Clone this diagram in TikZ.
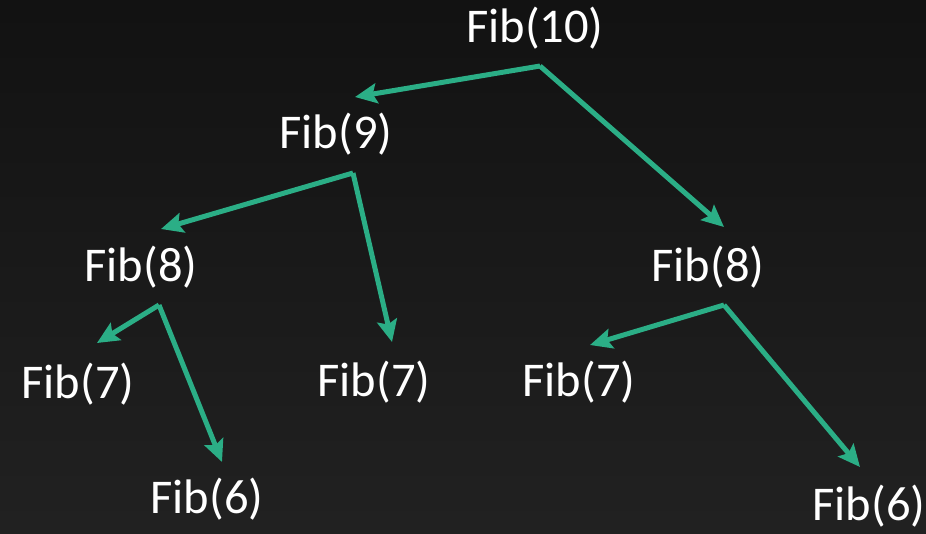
\documentclass[tikz,border=0pt]{standalone}
\usepackage{fontspec}
\setmainfont{Carlito}
\usetikzlibrary{arrows.meta}

\definecolor{fibgreen}{RGB}{43,174,134}

\begin{document}
\begin{tikzpicture}[x=1pt,y=-1pt,align=center,
    fib/.style={text=white,font=\fontsize{48.5}{58}\selectfont,inner sep=0pt},
    call/.style={draw=fibgreen,line width=5pt,-{Stealth[length=22pt,width=20pt,inset=4pt]}}]

\shade[top color=black!93,bottom color=black!87] (0,0) rectangle (926,533);
\useasboundingbox (0,0) rectangle (926,533);

\node[fib] (f10) at (535,28) {Fib(10)};
\node[fib] (f9) at (336,134) {Fib(9)};
\node[fib] (f8a) at (141,267) {Fib(8)};
\node[fib] (f8b) at (708,267) {Fib(8)};
\node[fib] (f7a) at (78,384) {Fib(7)};
\node[fib] (f7b) at (374,382) {Fib(7)};
\node[fib] (f7c) at (579,382) {Fib(7)};
\node[fib] (f6a) at (207,499) {Fib(6)};
\node[fib] (f6b) at (869,506) {Fib(6)};

% forks under each caller, tips above each callee
\coordinate (s10) at (540,66);
\coordinate (s9) at (353,173);
\coordinate (s8a) at (159,305);
\coordinate (s8b) at (724,305);

\coordinate (t9) at (355,97);
\coordinate (t8b) at (724,227);
\coordinate (t8a) at (161,229);
\coordinate (t7b) at (392,342);
\coordinate (t7a) at (97,343);
\coordinate (t6a) at (222,462);
\coordinate (t7c) at (590,345);
\coordinate (t6b) at (860,467);

\draw[call] (s10) -- (t9);
\draw[call] (s10) -- (t8b);
\draw[call] (s9) -- (t8a);
\draw[call] (s9) -- (t7b);
\draw[call] (s8a) -- (t7a);
\draw[call] (s8a) -- (t6a);
\draw[call] (s8b) -- (t7c);
\draw[call] (s8b) -- (t6b);

\end{tikzpicture}
\end{document}
